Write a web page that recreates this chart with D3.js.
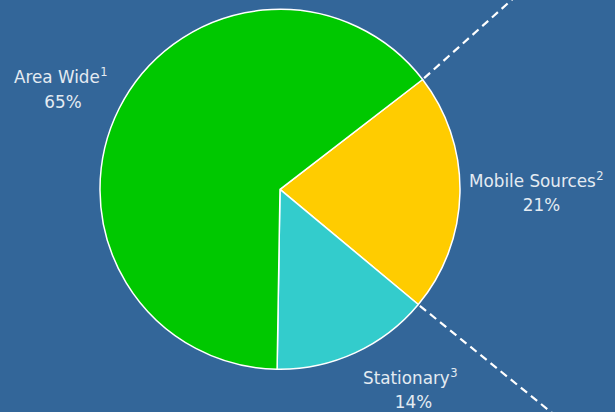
<!DOCTYPE html>
<html>
<head>
<meta charset="utf-8">
<script src="https://cdn.jsdelivr.net/npm/d3@7"></script>
<style>
html,body{margin:0;padding:0;background:#336699;}
svg{display:block;}
</style>
</head>
<body>
<script>
const categories = ["Mobile Sources", "Stationary", "Area Wide"];
const values = [21.5, 14.2, 64.3];
const percentLabels = ["21%", "14%", "65%"];
const footnotes = ["2", "3", "1"];
const colors = ["#FFCC00", "#33CCCC", "#00C800"];

const W = 615, H = 412;
const cx = 280, cy = 189.3, r = 180;
const startDeg = 52.4;

const svg = d3.select("body").append("svg").attr("width", W).attr("height", H);
svg.append("rect").attr("width", W).attr("height", H).attr("fill", "#336699");

const pie = d3.pie().sort(null)
  .startAngle(startDeg * Math.PI / 180)
  .endAngle(startDeg * Math.PI / 180 + 2 * Math.PI);
const arcs = pie(values);
const arc = d3.arc().innerRadius(0).outerRadius(r);

const g = svg.append("g").attr("transform", `translate(${cx},${cy})`);
g.selectAll("path").data(arcs).enter().append("path")
  .attr("d", arc)
  .attr("fill", (d, i) => colors[i])
  .attr("stroke", "#ffffff")
  .attr("stroke-width", 1.5)
  .attr("stroke-linejoin", "round");

const mob = arcs[0];
function edgePoint(a) { return [cx + r * Math.sin(a), cy - r * Math.cos(a)]; }
const p1 = edgePoint(mob.startAngle), p2 = edgePoint(mob.endAngle);
const lines = [
  {from: p1, dir: [85, -76]},
  {from: p2, dir: [132, 107]}
];
lines.forEach(l => {
  const t = 3;
  svg.append("line")
    .attr("x1", l.from[0]).attr("y1", l.from[1])
    .attr("x2", l.from[0] + l.dir[0] * t).attr("y2", l.from[1] + l.dir[1] * t)
    .attr("stroke", "#ffffff").attr("stroke-width", 2.2)
    .attr("stroke-dasharray", "8,5").attr("stroke-dashoffset", -2);
});

const labelPos = [
  {x: 469, y: 187, px: 541.5, py: 211},
  {x: 363, y: 384, px: 413.5, py: 408},
  {x: 14, y: 83, px: 63, py: 108}
];
const font = "'DejaVu Sans', sans-serif";
const tc = "#e4ebf2";
categories.forEach((c, i) => {
  const p = labelPos[i];
  const t = svg.append("text").attr("x", p.x).attr("y", p.y)
    .attr("font-family", font).attr("font-size", 16.8).attr("fill", tc);
  t.append("tspan").text(c);
  t.append("tspan").attr("dx", 0.5).attr("dy", -7.5).attr("font-size", 11.5).text(footnotes[i]);
  svg.append("text").attr("x", p.px).attr("y", p.py)
    .attr("text-anchor", "middle")
    .attr("font-family", font).attr("font-size", 16.8).attr("fill", tc)
    .text(percentLabels[i]);
});
</script>
</body>
</html>
